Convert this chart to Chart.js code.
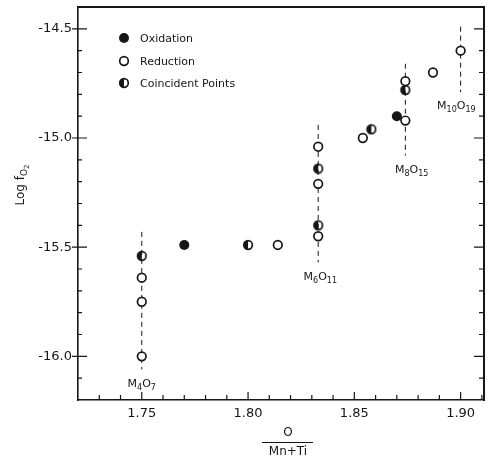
<!DOCTYPE html>
<html>
<head>
<meta charset="utf-8">
<script src="https://cdn.jsdelivr.net/npm/chart.js@4.4.1/dist/chart.umd.min.js"></script>
<style>
  html, body { margin: 0; padding: 0; background: #fff; }
  #wrap { width: 490px; height: 459px; }
</style>
</head>
<body>
<div id="wrap"><canvas id="c" width="490" height="459"></canvas></div>
<script>
const xTicks = [1.75, 1.80, 1.85, 1.90];
const yTicks = [-16.0, -15.5, -15.0, -14.5];

const oxidationX = [1.770, 1.870];
const oxidationY = [-15.49, -14.90];

const reductionX = [1.750, 1.750, 1.750, 1.814, 1.833, 1.833, 1.833, 1.854, 1.874, 1.874, 1.887, 1.900];
const reductionY = [-15.64, -15.75, -16.00, -15.49, -15.04, -15.21, -15.45, -15.00, -14.92, -14.74, -14.70, -14.60];

const coincidentX = [1.750, 1.800, 1.833, 1.833, 1.858, 1.874];
const coincidentY = [-15.54, -15.49, -15.14, -15.40, -14.96, -14.78];

// vertical dashed lines marking the phases
const phaseX = [1.750, 1.833, 1.874, 1.900];
const phaseTop = [-15.43, -14.94, -14.66, -14.49];
const phaseBottom = [-16.06, -15.57, -15.08, -14.79];
const phaseNames = [["M", "4", "O", "7"], ["M", "6", "O", "11"], ["M", "8", "O", "15"], ["M", "10", "O", "19"]];
const phaseLabelX = [1.750, 1.834, 1.877, 1.898];
const phaseLabelY = [-16.12, -15.63, -15.14, -14.85];

const legendLabels = ["Oxidation", "Reduction", "Coincident Points"];

const INK = "#161616";
const FONT = "'DejaVu Sans', sans-serif";

function halfDot() {
    const cv = document.createElement("canvas");
    cv.width = 12; cv.height = 12;
    const g = cv.getContext("2d");
    g.beginPath();
    g.arc(6, 6, 4.3, Math.PI / 2, Math.PI * 1.5);
    g.closePath();
    g.fillStyle = INK;
    g.fill();
    g.beginPath();
    g.arc(6, 6, 4.3, 0, Math.PI * 2);
    g.lineWidth = 1.7;
    g.strokeStyle = INK;
    g.stroke();
    return cv;
}
const halfImg = halfDot();

function pts(xs, ys) {
    return xs.map((x, i) => ({ x: x, y: ys[i] }));
}

const phaseSets = phaseX.map((x, i) => ({
    type: "line",
    data: [{ x: x, y: phaseTop[i] }, { x: x, y: phaseBottom[i] }],
    borderColor: INK,
    borderWidth: 1,
    borderDash: [5, 4],
    pointRadius: 0,
    order: 5
}));

function subText(ctx, parts, cx, cy, big, small) {
    // parts alternate normal / subscript
    let widths = parts.map((p, i) => {
        ctx.font = (i % 2 ? small : big) + "px " + FONT;
        return ctx.measureText(p).width;
    });
    let total = widths.reduce((a, b) => a + b, 0);
    let x = cx - total / 2;
    ctx.textAlign = "left";
    ctx.textBaseline = "alphabetic";
    parts.forEach((p, i) => {
        ctx.font = (i % 2 ? small : big) + "px " + FONT;
        ctx.fillText(p, x, cy + (i % 2 ? 3 : 0));
        x += widths[i];
    });
}

const decor = {
    id: "decor",
    afterDraw(chart) {
        const ctx = chart.ctx;
        const a = chart.chartArea;
        const xs = chart.scales.x, ys = chart.scales.y;
        ctx.save();
        ctx.setLineDash([]);
        ctx.strokeStyle = INK;
        ctx.fillStyle = INK;

        // top and right frame edges
        ctx.fillRect(a.left - 1, a.top - 1, a.right - a.left + 2, 2);
        ctx.fillRect(a.right - 1, a.top - 1, 2, a.bottom - a.top + 2);

        // tick marks pointing inward
        ctx.lineWidth = 1.2;
        ctx.beginPath();
        for (let v = 1.73; v < 1.912; v += 0.01) {
            const px = xs.getPixelForValue(v);
            const major = xTicks.some(t => Math.abs(t - v) < 0.001);
            ctx.moveTo(px, a.bottom);
            ctx.lineTo(px, a.bottom - (major ? 8 : 5));
        }
        for (let v = -16.1; v < -14.39; v += 0.1) {
            const py = ys.getPixelForValue(v);
            const major = yTicks.some(t => Math.abs(t - v) < 0.001);
            ctx.moveTo(a.left - (major ? 6 : 0), py);
            ctx.lineTo(a.left + (major ? 9 : 4), py);
            ctx.moveTo(a.right, py);
            ctx.lineTo(a.right - (major ? 10 : 5), py);
        }
        ctx.stroke();

        // phase labels
        phaseNames.forEach((parts, i) => {
            subText(ctx, parts, xs.getPixelForValue(phaseLabelX[i]), ys.getPixelForValue(phaseLabelY[i]) + 4, 11, 8);
        });

        // legend
        const lx = 124, ly = [38, 61, 83];
        ctx.font = "11px " + FONT;
        ctx.textAlign = "left";
        ctx.textBaseline = "middle";
        legendLabels.forEach((t, i) => {
            if (i === 0) {
                ctx.beginPath(); ctx.arc(lx, ly[i], 5, 0, Math.PI * 2); ctx.fill();
            } else if (i === 1) {
                ctx.beginPath(); ctx.arc(lx, ly[i], 4.3, 0, Math.PI * 2);
                ctx.lineWidth = 1.7; ctx.stroke();
            } else {
                ctx.drawImage(halfImg, lx - 6, ly[i] - 6);
            }
            ctx.fillText(t, lx + 16, ly[i] + 1);
        });

        // y title: Log fO2
        ctx.translate(20, 185);
        ctx.rotate(-Math.PI / 2);
        ctx.textBaseline = "alphabetic";
        ctx.font = "12px " + FONT;
        const w1 = ctx.measureText("Log f").width;
        ctx.font = "9px " + FONT;
        const w2 = ctx.measureText("O").width;
        ctx.font = "7px " + FONT;
        const w3 = ctx.measureText("2").width;
        let x0 = -(w1 + w2 + w3) / 2;
        ctx.font = "12px " + FONT;
        ctx.fillText("Log f", x0, 4);
        ctx.font = "9px " + FONT;
        ctx.fillText("O", x0 + w1, 7);
        ctx.font = "7px " + FONT;
        ctx.fillText("2", x0 + w1 + w2, 9);
        ctx.setTransform(1, 0, 0, 1, 0, 0);

        // x title: O / (Mn+Ti)
        ctx.font = "12px " + FONT;
        ctx.textAlign = "center";
        ctx.textBaseline = "middle";
        ctx.fillText("O", 288, 433);
        ctx.fillText("Mn+Ti", 288, 452);
        ctx.fillRect(262, 442, 51, 1);

        ctx.restore();
    }
};

const frameBorder = { display: true, color: INK, width: 1.6 };

new Chart(document.getElementById("c"), {
    type: "scatter",
    data: {
        datasets: [
            ...phaseSets,
            {
                label: "Oxidation",
                data: pts(oxidationX, oxidationY),
                pointRadius: 5,
                pointBackgroundColor: INK,
                pointBorderColor: INK,
                pointBorderWidth: 0,
                order: 1
            },
            {
                label: "Reduction",
                data: pts(reductionX, reductionY),
                pointRadius: 4.3,
                pointBackgroundColor: "#fff",
                pointBorderColor: INK,
                pointBorderWidth: 1.7,
                order: 2
            },
            {
                label: "Coincident Points",
                data: pts(coincidentX, coincidentY),
                pointStyle: halfImg,
                pointRadius: 5,
                order: 0
            }
        ]
    },
    options: {
        responsive: false,
        animation: false,
        layout: { padding: { top: 7, right: 3, left: 0, bottom: 0 } },
        plugins: { legend: { display: false }, tooltip: { enabled: false } },
        scales: {
            x: {
                type: "linear",
                min: 1.72,
                max: 1.911,
                afterBuildTicks: s => { s.ticks = xTicks.map(v => ({ value: v })); },
                afterFit: s => { s.height = 59; s.paddingLeft = 0; s.paddingRight = 0; },
                grid: { display: false, drawTicks: false },
                border: frameBorder,
                ticks: {
                    padding: 6,
                    color: INK,
                    font: { family: FONT, size: 13 },
                    callback: v => v.toFixed(2)
                }
            },
            y: {
                type: "linear",
                min: -16.2,
                max: -14.4,
                afterBuildTicks: s => { s.ticks = yTicks.map(v => ({ value: v })); },
                afterFit: s => { s.width = 78; s.paddingTop = 0; s.paddingBottom = 0; },
                grid: { display: false, drawTicks: false },
                border: frameBorder,
                ticks: {
                    padding: 6,
                    color: INK,
                    font: { family: FONT, size: 13 },
                    callback: v => v.toFixed(1)
                }
            }
        }
    },
    plugins: [decor]
});
</script>
</body>
</html>
